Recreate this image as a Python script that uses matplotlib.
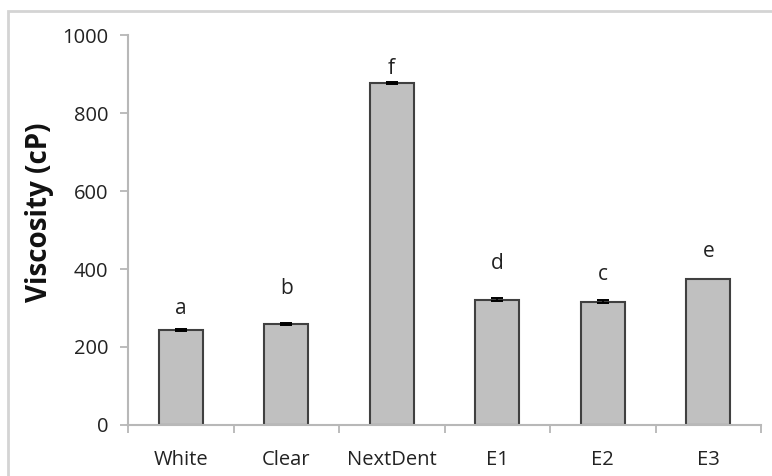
import matplotlib
matplotlib.use("Agg")
import matplotlib.pyplot as plt
import numpy as np
from matplotlib.patches import Rectangle

# dados
categorias = ["White", "Clear", "NextDent", "E1", "E2", "E3"]
viscosidade = [244, 259, 877, 321, 316, 374]
erro = [2, 3, 3, 4, 4, 0]
letras = ["a", "b", "f", "d", "c", "e"]
pos_letras = [300, 351, 915, 415, 385, 444]

plt.rcParams["font.family"] = ["Open Sans", "DejaVu Sans"]

W, H = 772, 476
fig = plt.figure(figsize=(W / 100, H / 100), dpi=100)
ax = fig.add_axes([128 / W, 1 - 425 / H, (761 - 128) / W, (425 - 35) / H])

# moldura externa cinza
fig.patches.append(Rectangle((8 / W, -0.1), 1.2, 1 - 11 / H + 0.1, transform=fig.transFigure,
                             fill=False, edgecolor="#d4d4d4", linewidth=2))

x = np.arange(len(categorias))
ax.bar(x, viscosidade, 0.42, color="#c0c0c0", edgecolor="#404040", linewidth=1.5, zorder=2)
tem_erro = np.array(erro) > 0
ax.errorbar(x[tem_erro], np.array(viscosidade)[tem_erro], yerr=np.array(erro)[tem_erro],
            fmt="none", ecolor="black", elinewidth=1.2, capsize=4.5, capthick=1.4, zorder=3)
for xi, l, y in zip(x, letras, pos_letras):
    ax.text(xi, y, l, ha="center", va="center", fontsize=15, color="#222222")

ax.set_xlim(-0.5, len(categorias) - 0.5)
ax.set_ylim(0, 1000)
ax.set_yticks(range(0, 1001, 200))
ax.set_xticks(x)
ax.set_xticklabels(categorias, fontsize=14.5, color="#222222")
ax.set_xticks(np.arange(-0.5, len(categorias)), minor=True)
ax.tick_params(axis="x", which="major", length=0, pad=18)
ax.tick_params(axis="x", which="minor", length=6, color="#b0b0b0", width=1.2)
ax.tick_params(axis="y", length=6, color="#b0b0b0", width=1.2, labelsize=14.5,
               labelcolor="#222222", pad=8)
for s in ("top", "right"):
    ax.spines[s].set_visible(False)
for s in ("left", "bottom"):
    ax.spines[s].set_color("#b8b8b8")
    ax.spines[s].set_linewidth(1.5)

fig.text(40 / W, 1 - 212 / H, "Viscosity (cP)", rotation=90, ha="center", va="center",
         fontsize=20, fontweight="bold", color="#111111")

fig.savefig("out.png", dpi=100)
